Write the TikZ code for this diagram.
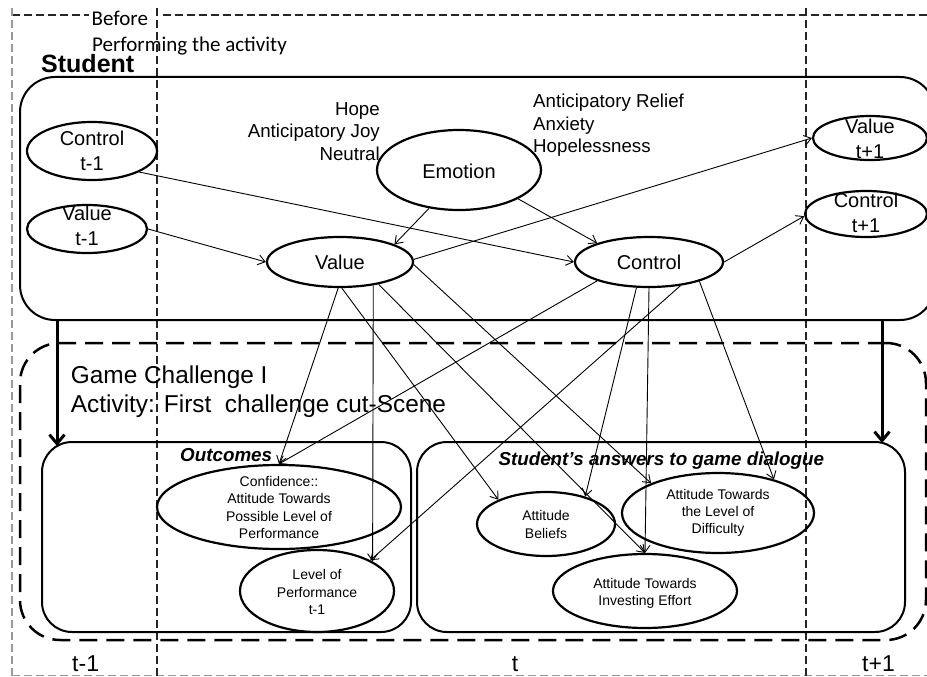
\documentclass[tikz,border=0pt]{standalone}
\usepackage{fontspec}
\setmainfont{Liberation Sans}
\newfontfamily\carlito{Carlito}
\usetikzlibrary{arrows.meta,shapes.geometric}
\begin{document}
\begin{tikzpicture}[x=1pt,y=-1pt,
  fr/.style={line width=1.1pt, dash pattern=on 8pt off 4pt, black!85},
  frgray/.style={line width=1.1pt, dash pattern=on 8pt off 4pt, black!40},
  ellbox/.style={draw, ellipse, line width=2.2pt, inner sep=0pt},
  boxr/.style={draw, line width=2pt, inner sep=0pt},
  bigtxt/.style={font=\fontsize{20}{25}\selectfont, align=center, inner sep=0pt},
  smalltxt/.style={font=\fontsize{14}{17.2}\selectfont, align=center, inner sep=0pt},
  emotxt/.style={font=\fontsize{18.7}{22.5}\selectfont, inner sep=0pt},
  gametxt/.style={font=\fontsize{24.4}{29}\selectfont, inner sep=0pt, anchor=base west},
  timetxt/.style={font=\fontsize{23}{27}\selectfont, inner sep=0pt, anchor=base west},
  arr/.style={line width=0.9pt, -{Straight Barb[length=7pt,width=10pt]}},
  bigarr/.style={line width=3pt, -{Straight Barb[length=9pt,width=15pt]}}
]
\useasboundingbox (0,0) rectangle (927,677);
\clip (0,0) rectangle (927,677);

% outer time frame
\draw[fr] (12,15) -- (89,15);
\draw[fr] (163,15) -- (940,15);
\draw[frgray] (12,8) -- (12,676);
\draw[frgray] (12,675.5) -- (940,675.5);
\draw[fr] (157,8) -- (157,677);
\draw[fr] (806,8) -- (806,677);

\node[anchor=base west, inner sep=0pt, font=\carlito\fontsize{21}{25}\selectfont] (before) at (91.5,26) {Before};
\node[anchor=base west, inner sep=0pt, font=\carlito\fontsize{21}{25}\selectfont] (perf) at (92,51.7) {Performing the activity};

% student box
\node[anchor=base west, inner sep=0pt, font=\bfseries\fontsize{25}{30}\selectfont] (stut) at (41,72.5) {Student};
\node[boxr, rounded corners=35pt, minimum width=915pt, minimum height=243pt] (stu) at (477.5,198.5) {};

% game challenge box
\node[draw, line width=2.5pt, dash pattern=on 18pt off 9pt, rounded corners=40pt, inner sep=0pt,
      minimum width=906pt, minimum height=297pt] (game) at (473,491.5) {};
\node[gametxt] (g1) at (70.7,383.5) {Game Challenge I};
\node[gametxt] (g2) at (70.7,412.7) {Activity: First\ \ challenge cut-Scene};

% outcome boxes
\node[boxr, rounded corners=30pt, minimum width=369pt, minimum height=190pt] (outc) at (226.5,537) {};
\node[boxr, rounded corners=30pt, minimum width=488pt, minimum height=190pt] (ans) at (661,537) {};
\node[anchor=base west, inner sep=0pt, font=\bfseries\itshape\fontsize{18.8}{22}\selectfont] (outt) at (180,461.7) {Outcomes};
\node[anchor=base west, inner sep=0pt, font=\bfseries\itshape\fontsize{18.8}{22}\selectfont] (anst) at (498.3,465) {Student’s answers to game dialogue};

% thick arrows
\draw[bigarr] (57,0 |- stu.south) -- (57,446);
\draw[bigarr] (882,0 |- stu.south) -- (882,443);

% student ellipses
\node[ellbox, minimum width=130pt, minimum height=58pt] (ct1) at (92,151) {};
\node[bigtxt] (ct1t) at (92,150.5) {Control\\t-1};
\node[ellbox, minimum width=120pt, minimum height=48pt] (vt1) at (87,229) {};
\node[bigtxt] (vt1t) at (87,225.5) {Value\\t-1};
\node[ellbox, minimum width=164pt, minimum height=80pt] (emo) at (459,170) {};
\node[bigtxt] (emot) at (459,171) {Emotion};
\node[ellbox, minimum width=146pt, minimum height=50pt] (val) at (340,262) {};
\node[bigtxt] (valt) at (340,262) {Value};
\node[ellbox, minimum width=148pt, minimum height=50pt] (ctl) at (649,262) {};
\node[bigtxt] (ctlt) at (649,262) {Control};
\node[ellbox, minimum width=114pt, minimum height=44pt] (vtp) at (870,138) {};
\node[bigtxt] (vtpt) at (870,139) {Value\\t+1};
\node[ellbox, minimum width=122pt, minimum height=46pt] (ctp) at (866,214) {};
\node[bigtxt] (ctpt) at (866,212.5) {Control\\t+1};

% emotion labels
\node[emotxt, anchor=base east] (hope) at (380,115) {Hope};
\node[emotxt, anchor=base east] (joy) at (380,137.5) {Anticipatory Joy};
\node[emotxt, anchor=base east] (neut) at (380,160) {Neutral};
\node[emotxt, anchor=base west] (rel) at (533,107.3) {Anticipatory Relief};
\node[emotxt, anchor=base west] (anx) at (533,130) {Anxiety};
\node[emotxt, anchor=base west] (hopel) at (533,152.7) {Hopelessness};

% outcome ellipses
\node[ellbox, minimum width=244pt, minimum height=84pt] (conf) at (279,507) {};
\node[smalltxt] (conft) at (279,507.5) {Confidence::\\Attitude Towards\\Possible Level of\\Performance};
\node[ellbox, minimum width=154pt, minimum height=82pt] (lop) at (317,591) {};
\node[smalltxt] (lopt) at (317,592) {Level of\\Performance\\t-1};
\node[ellbox, minimum width=138pt, minimum height=64pt] (ab) at (546,524) {};
\node[smalltxt] (abt) at (546,524.5) {Attitude\\Beliefs};
\node[ellbox, minimum width=192pt, minimum height=80pt] (ald) at (718,513) {};
\node[smalltxt] (aldt) at (718,513) {Attitude Towards\\the Level of\\Difficulty};
\node[ellbox, minimum width=184pt, minimum height=74pt] (aie) at (645,591) {};
\node[smalltxt] (aiet) at (645,593) {Attitude Towards\\Investing Effort};

% time labels
\node[timetxt] (tm1) at (72,671.7) {t-1};
\node[timetxt] (tt) at (511.7,671.7) {t};
\node[timetxt] (tp1) at (862,671.7) {t+1};

% connectors
\draw[arr] (ct1.-24) -- (ctl.180);
\draw[arr] (vt1.0) -- (val.180);
\draw[arr] (emo.-128) -- (val.18);
\draw[arr] (emo.-26) -- (ctl.160);
\draw[arr] (val.2) -- (vtp.180);
\draw[arr] (ctl.0) -- (ctp.182);
\draw[arr] (val.-94) -- (conf.90);
\draw[arr] (val.-35) -- (lop.28);
\draw[arr] (val.-86) -- (ab.153);
\draw[arr] (val.-30) -- (aie.90);
\draw[arr] (val.-2) -- (ald.156);
\draw[arr] (ctl.200) -- (conf.90);
\draw[arr] (ctl.-37) -- (lop.30);
\draw[arr] (ctl.-116) -- (ab.35);
\draw[arr] (ctl.-90) -- (aie.90);
\draw[arr] (ctl.-21) -- (ald.31);
\end{tikzpicture}
\end{document}
